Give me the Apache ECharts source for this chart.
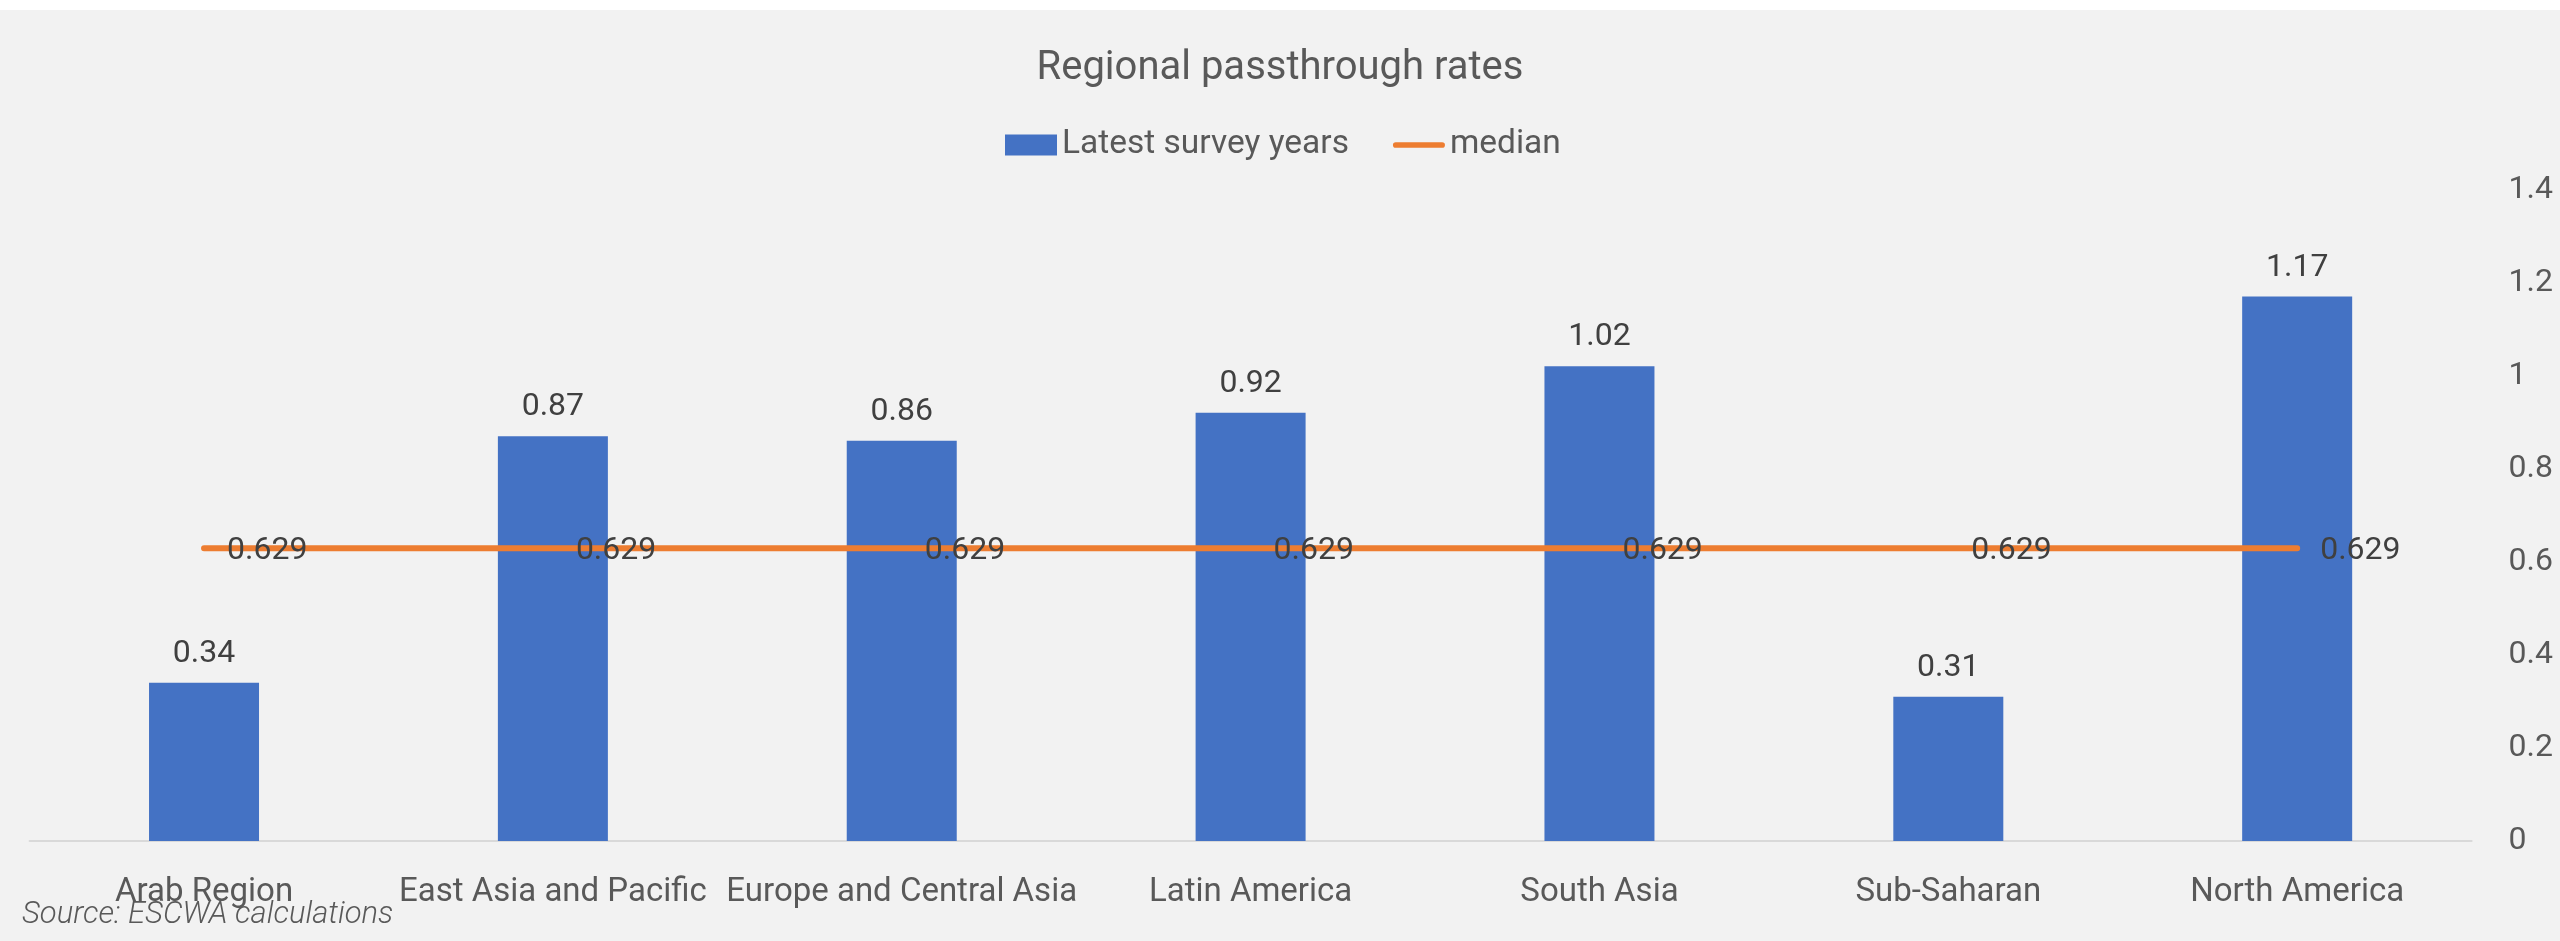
<!DOCTYPE html>
<html>
<head>
<meta charset="utf-8">
<title>Regional passthrough rates</title>
<script src="https://cdn.jsdelivr.net/npm/echarts@6/dist/echarts.min.js"></script>
<style>
  html, body { margin: 0; padding: 0; background: #ffffff; }
  #chart { position: absolute; left: 0; top: 10px; width: 2560px; height: 931px; background: #f2f2f2; }
</style>
</head>
<body>
<div id="chart"></div>
<script>
// Regions shown along the category axis
const regions = [
  'Arab Region',
  'East Asia and Pacific',
  'Europe and Central Asia',
  'Latin America',
  'South Asia',
  'Sub-Saharan',
  'North America'
];

// Passthrough rate per region, latest survey years
const latestSurveyYears = [0.34, 0.87, 0.86, 0.92, 1.02, 0.31, 1.17];

// Median passthrough across regions, repeated for each category
const median = [0.629, 0.629, 0.629, 0.629, 0.629, 0.629, 0.629];

const FONT = 'Roboto';
const chart = echarts.init(document.getElementById('chart'), null, { renderer: 'canvas' });

chart.setOption({
  animation: false,
  backgroundColor: '#f2f2f2',
  title: {
    text: 'Regional passthrough rates',
    left: 'center',
    top: 39,
    padding: 0,
    textStyle: { fontFamily: FONT, fontSize: 40, fontWeight: 'normal', color: '#595959', lineHeight: 40 }
  },
  legend: {
    left: 1005,
    top: 118,
    padding: 0,
    itemWidth: 52,
    itemHeight: 21,
    itemGap: 44,
    textStyle: { fontFamily: FONT, fontSize: 33.5, color: '#595959', lineHeight: 33 },
    data: [
      { name: 'Latest survey years', icon: 'rect' },
      { name: 'median', icon: 'path://M3,0 H52 A3,3 0 0 1 52,6 H3 A3,3 0 0 1 3,0 Z' }
    ]
  },
  grid: {
    left: 29.6,
    right: 88.4,
    top: 179.5,
    bottom: 100,
    containLabel: false
  },
  xAxis: {
    type: 'category',
    data: regions,
    axisLine: { show: true, lineStyle: { color: '#d9d9d9', width: 2 } },
    axisTick: { show: false },
    axisLabel: {
      interval: 0,
      margin: 35,
      fontFamily: FONT,
      fontSize: 33,
      lineHeight: 33,
      color: '#595959'
    }
  },
  yAxis: {
    type: 'value',
    position: 'right',
    min: 0,
    max: 1.4,
    interval: 0.2,
    splitLine: { show: false },
    axisLine: { show: false },
    axisTick: { show: false },
    axisLabel: {
      margin: 37,
      fontFamily: FONT,
      fontSize: 32,
      lineHeight: 32,
      padding: [6, 0, 0, 0],
      color: '#595959'
    }
  },
  series: [
    {
      name: 'Latest survey years',
      type: 'bar',
      data: latestSurveyYears,
      barWidth: 110,
      itemStyle: { color: '#4472c4' },
      label: {
        show: true,
        position: 'top',
        distance: 13,
        fontFamily: FONT,
        fontSize: 32,
        lineHeight: 32,
        color: '#404040'
      },
      z: 2
    },
    {
      name: 'median',
      type: 'line',
      data: median,
      symbol: 'circle',
      symbolSize: 0,
      showSymbol: true,
      itemStyle: { color: '#ed7d31' },
      lineStyle: { color: '#ed7d31', width: 6, cap: 'round' },
      label: {
        show: true,
        position: 'right',
        distance: 23,
        offset: [0, 3],
        fontFamily: FONT,
        fontSize: 32,
        lineHeight: 32,
        color: '#404040',
        formatter: (p) => p.value.toFixed(3)
      },
      z: 3
    }
  ],
  graphic: [
    {
      type: 'text',
      left: 22,
      top: 890,
      style: {
        text: 'Source: ESCWA calculations',
        font: 'italic 300 31px Roboto',
        fill: '#595959'
      },
      z: 10
    }
  ]
});
</script>
</body>
</html>
